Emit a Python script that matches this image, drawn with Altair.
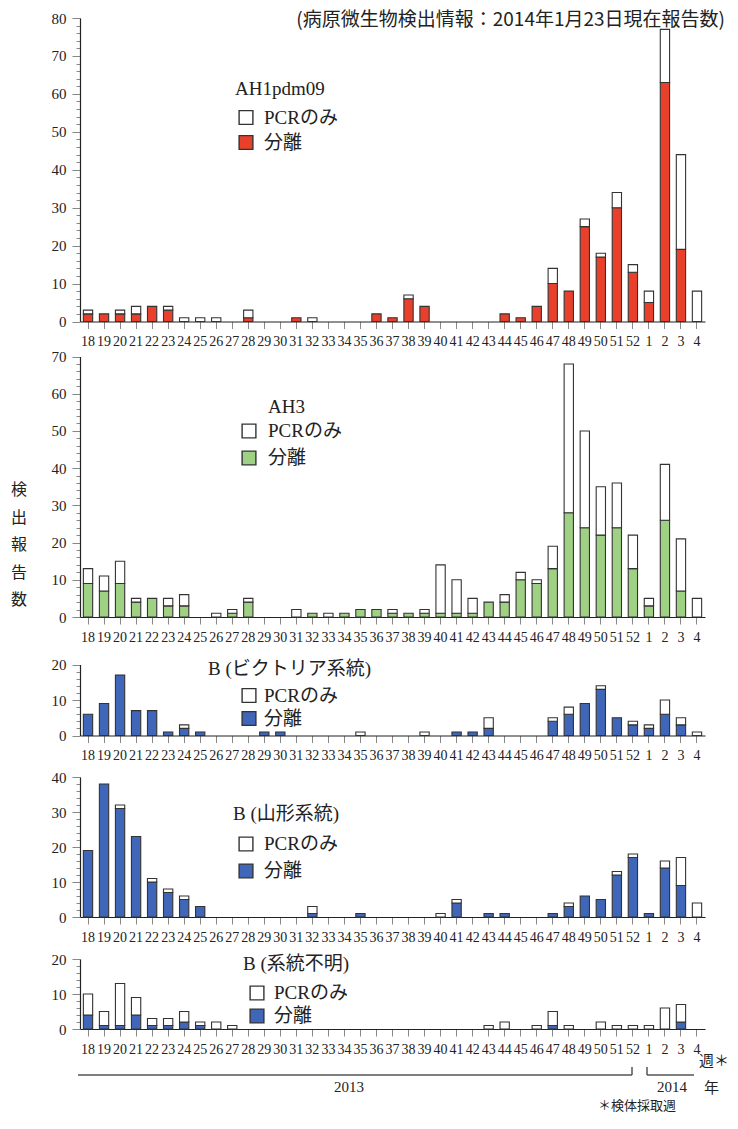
import altair as alt
import pandas as pd

weeks = ["18", "19", "20", "21", "22", "23", "24", "25", "26", "27", "28", "29",
         "30", "31", "32", "33", "34", "35", "36", "37", "38", "39", "40", "41",
         "42", "43", "44", "45", "46", "47", "48", "49", "50", "51", "52",
         "1", "2", "3", "4"]

kinds = ["PCRのみ", "分離"]

# totals (PCR + isolation) and isolation counts, weeks 2013/18 .. 2014/4
ah1_total = [3, 2, 3, 4, 4, 4, 1, 1, 1, 0, 3, 0, 0, 1, 1, 0, 0, 0, 2, 1, 7, 4, 0, 0,
             0, 0, 2, 1, 4, 14, 8, 27, 18, 34, 15, 8, 77, 44, 8]
ah1_iso = [2, 2, 2, 2, 4, 3, 0, 0, 0, 0, 1, 0, 0, 1, 0, 0, 0, 0, 2, 1, 6, 4, 0, 0,
           0, 0, 2, 1, 4, 10, 8, 25, 17, 30, 13, 5, 63, 19, 0]

ah3_total = [13, 11, 15, 5, 5, 5, 6, 0, 1, 2, 5, 0, 0, 2, 1, 1, 1, 2, 2, 2, 1, 2, 14, 10,
             5, 4, 6, 12, 10, 19, 68, 50, 35, 36, 22, 5, 41, 21, 5]
ah3_iso = [9, 7, 9, 4, 5, 3, 3, 0, 0, 1, 4, 0, 0, 0, 1, 0, 1, 2, 2, 1, 1, 1, 1, 1,
           1, 4, 4, 10, 9, 13, 28, 24, 22, 24, 13, 3, 26, 7, 0]

bvic_total = [6, 9, 17, 7, 7, 1, 3, 1, 0, 0, 0, 1, 1, 0, 0, 0, 0, 1, 0, 0, 0, 1, 0, 1,
              1, 5, 0, 0, 0, 5, 8, 9, 14, 5, 4, 3, 10, 5, 1]
bvic_iso = [6, 9, 17, 7, 7, 1, 2, 1, 0, 0, 0, 1, 1, 0, 0, 0, 0, 0, 0, 0, 0, 0, 0, 1,
            1, 2, 0, 0, 0, 4, 6, 9, 13, 5, 3, 2, 6, 3, 0]

byam_total = [19, 38, 32, 23, 11, 8, 6, 3, 0, 0, 0, 0, 0, 0, 3, 0, 0, 1, 0, 0, 0, 0, 1, 5,
              0, 1, 1, 0, 0, 1, 4, 6, 5, 13, 18, 1, 16, 17, 4]
byam_iso = [19, 38, 31, 23, 10, 7, 5, 3, 0, 0, 0, 0, 0, 0, 1, 0, 0, 1, 0, 0, 0, 0, 0, 4,
            0, 1, 1, 0, 0, 1, 3, 6, 5, 12, 17, 1, 14, 9, 0]

bunk_total = [10, 5, 13, 9, 3, 3, 5, 2, 2, 1, 0, 0, 0, 0, 0, 0, 0, 0, 0, 0, 0, 0, 0, 0,
              0, 1, 2, 0, 1, 5, 1, 0, 2, 1, 1, 1, 6, 7, 0]
bunk_iso = [4, 1, 1, 4, 1, 1, 2, 1, 0, 0, 0, 0, 0, 0, 0, 0, 0, 0, 0, 0, 0, 0, 0, 0,
            0, 0, 0, 0, 0, 1, 0, 0, 0, 0, 0, 0, 0, 2, 0]

SERIF = "Liberation Serif, Noto Sans CJK JP"
JP = "Noto Sans CJK JP"
INK = "#222222"

RED = "#e8402b"
GREEN = "#9fd184"
BLUE = "#3f66b9"

W = 625


def txt(s, x, y, size=19, font=SERIF, align="left", baseline="middle", **kw):
    return alt.Chart(pd.DataFrame({"s": [s]})).mark_text(
        x=x, y=y, fontSize=size, font=font, align=align, baseline=baseline,
        color=INK, **kw).encode(text="s:N")


def sq(x, y, fill):
    return alt.Chart(pd.DataFrame({"s": [0]})).mark_square(
        x=x, y=y, size=190, stroke="#333333", strokeWidth=1.4, opacity=1
    ).encode(fill=alt.value(fill))


def rule(x1, y1, x2, y2):
    return alt.Chart(pd.DataFrame({"s": [0]})).mark_rule(
        color="#555555", strokeWidth=1.5).encode(
        x=alt.value(x1), x2=alt.value(x2), y=alt.value(y1), y2=alt.value(y2))


def panel(name, total, iso, fill, ymax, H, t, leg, extra=None):
    rows = []
    for w, tot, iv in zip(weeks, total, iso):
        if iv > 0:
            rows.append({"week": w, "kind": kinds[1], "lo": 0, "hi": iv})
        if tot - iv > 0:
            rows.append({"week": w, "kind": kinds[0], "lo": iv, "hi": tot})
    df = pd.DataFrame(rows)
    xaxis = alt.Axis(labelAngle=0, labelFont="Liberation Serif", labelFontSize=14,
                     labelColor=INK, tickSize=7, tickColor="#888888", domainColor=INK,
                     domainWidth=1.2, labelPadding=6, labelOverlap=False, title=None,
                     grid=False)
    yaxis = alt.Axis(values=list(range(0, ymax + 1, 2)),
                     labelExpr="datum.value % 10 === 0 ? datum.label : ''",
                     tickSize={"condition": {"test": "datum.value % 10 === 0", "value": 8},
                               "value": 4},
                     tickColor="#888888", domainColor=INK, domainWidth=1.2,
                     labelFont="Liberation Serif", labelFontSize=15, labelColor=INK,
                     labelPadding=6, grid=False, title=None)
    bars = alt.Chart(df).mark_bar(stroke="#333333", strokeWidth=1.1).encode(
        x=alt.X("week:N", sort=None,
                scale=alt.Scale(domain=weeks, paddingInner=0.42, paddingOuter=0.21),
                axis=xaxis),
        y=alt.Y("lo:Q", scale=alt.Scale(domain=[0, ymax], range=[H, t], nice=False),
                axis=yaxis),
        y2="hi:Q",
        color=alt.Color("kind:N", scale=alt.Scale(domain=kinds, range=["white", fill]),
                        legend=None),
    )
    tx, ty, sx, sy0, sy1, lx = leg
    layers = [bars,
              txt(name, tx, ty),
              sq(sx, sy0, "white"), sq(sx, sy1, fill),
              txt(kinds[0], lx, sy0), txt(kinds[1], lx, sy1)]
    if extra:
        layers += extra
    return alt.layer(*layers).properties(width=W, height=H)


p1 = panel("AH1pdm09", ah1_total, ah1_iso, RED, 80, 303.5, 0,
           (155, 70.5, 166, 99.5, 124.5, 184),
           extra=[txt("(病原微生物検出情報：2014年1月23日現在報告数)", 645, 2,
                      size=19, font=JP, align="right", baseline="middle")])

p2 = panel("AH3", ah3_total, ah3_iso, GREEN, 70, 268, 7.5,
           (188, 58, 169, 82, 109, 188),
           extra=[txt("検\n出\n報\n告\n数", -61, 133, size=16, font=JP,
                      align="center", baseline="top", lineBreak="\n", lineHeight=27.5)])

p3 = panel("B (ビクトリア系統)", bvic_total, bvic_iso, BLUE, 20, 91.5, 20.5,
           (128, 24.5, 169, 51.5, 74.5, 184))

p4 = panel("B (山形系統)", byam_total, byam_iso, BLUE, 40, 154, 14,
           (153, 51, 166, 81, 108, 184))

p5 = panel("B (系統不明)", bunk_total, bunk_iso, BLUE, 20, 85, 15,
           (163, 20, 177, 49, 72, 194),
           extra=[rule(-2, 131, 552, 131), rule(552, 123, 552, 131),
                  rule(567, 131, 614, 131), rule(567, 123, 567, 131),
                  txt("2013", 269, 143, size=15, align="center"),
                  txt("2014", 592, 143, size=15, align="center"),
                  txt("週＊", 619, 117, size=15, font=JP),
                  txt("年", 624, 144, size=15, font=JP),
                  txt("＊検体採取週", 557, 162, size=13, font=JP, align="center")])

chart = alt.vconcat(p1, p2, p3, p4, p5, spacing=0).properties(
    padding={"left": 2, "top": 3, "right": 0, "bottom": 0},
    background="white",
).resolve_scale(color="independent").configure_view(stroke=None)

chart.save("out.html", embed_options={"renderer": "svg", "actions": False})
